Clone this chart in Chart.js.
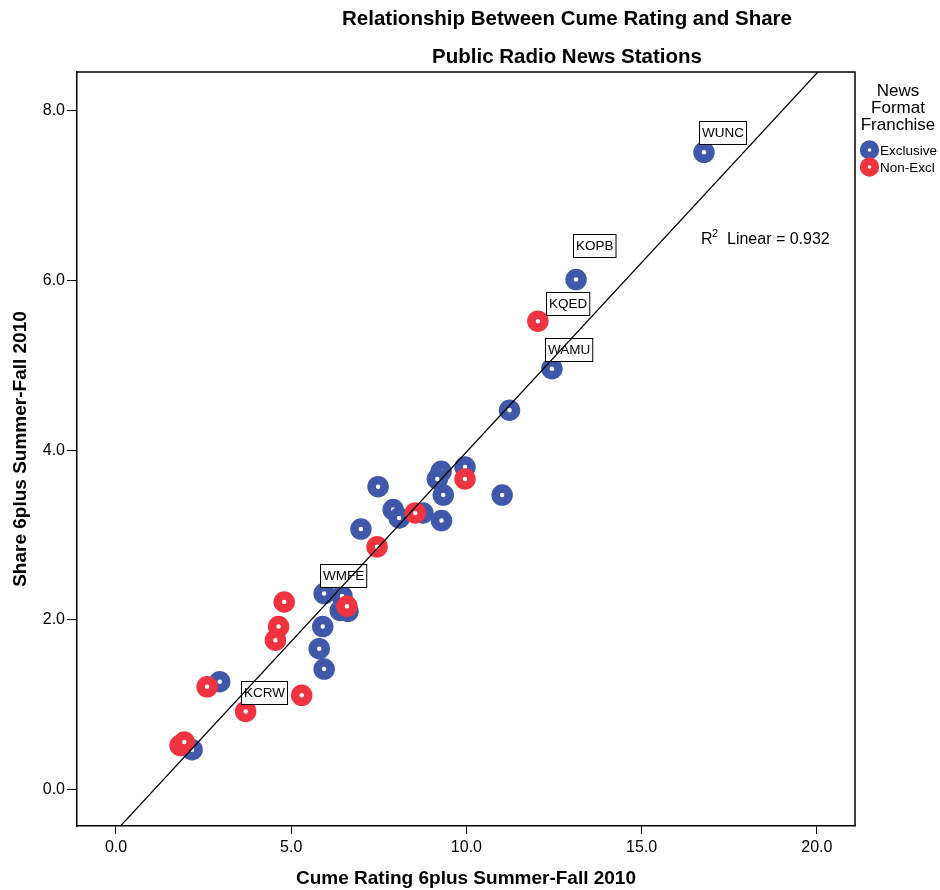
<!DOCTYPE html>
<html>
<head>
<meta charset="utf-8">
<script src="https://cdn.jsdelivr.net/npm/chart.js@4.4.1/dist/chart.umd.min.js"></script>
<style>
  html, body { margin: 0; padding: 0; background: #fff; }
  #wrap { position: relative; width: 940px; height: 890px; }
</style>
</head>
<body>
<div id="wrap"><canvas id="chart"></canvas></div>
<script>
// Exclusive (blue) stations
const exclX = [16.78, 13.13, 12.44, 11.23, 9.96, 9.28, 9.17, 9.34, 11.02, 7.48, 7.91, 8.08, 8.76, 9.29, 6.99, 5.94, 6.45, 6.40, 6.62, 5.90, 5.80, 5.94, 2.96, 2.17];
const exclY = [7.51, 6.01, 4.96, 4.47, 3.80, 3.75, 3.66, 3.47, 3.47, 3.57, 3.30, 3.20, 3.26, 3.17, 3.07, 2.31, 2.28, 2.11, 2.10, 1.92, 1.66, 1.42, 1.27, 0.47];
const exclNames = ['WUNC', 'KOPB', 'WAMU', '', '', '', '', '', '', '', '', '', '', '', '', 'WMFE', '', '', '', '', '', '', '', ''];

// Non-exclusive (red) stations
const nonX = [12.04, 9.96, 8.54, 7.45, 6.59, 4.80, 4.64, 4.55, 2.60, 3.70, 5.30, 1.83, 1.95];
const nonY = [5.52, 3.66, 3.26, 2.86, 2.16, 2.21, 1.92, 1.76, 1.21, 0.92, 1.11, 0.52, 0.56];
const nonNames = ['KQED', '', '', '', '', '', '', '', '', 'KCRW', '', '', ''];

// Linear fit line, read where it meets the plot frame
const fitX = [0.13, 20.03];
const fitY = [-0.43, 8.457];

const xTicks = [0, 5, 10, 15, 20];
const yTicks = [0, 2, 4, 6, 8];

const BLUE = '#3f58a9';
const RED  = '#ef3340';
const FONT = "'Liberation Sans', Arial, sans-serif";

// small nudges for the station label boxes (px from the point)
const labelNudge = {
  WUNC: [-5, -8], KOPB: [-3, -23], WAMU: [-7, -8],
  KQED: [8, -6], WMFE: [-4, -7], KCRW: [-5, -7]
};

const toPts = (xs, ys) => xs.map((x, i) => ({ x, y: ys[i] }));

const labelPlugin = {
  id: 'stationLabels',
  beforeDatasetDraw(chart, args) {
    if (args.index !== 2) return;
    const ctx = chart.ctx;
    ctx.save();
    ctx.font = `13.5px ${FONT}`;
    ctx.textBaseline = 'middle';
    ctx.textAlign = 'left';
    [[0, exclNames], [1, nonNames]].forEach(([di, names]) => {
      const meta = chart.getDatasetMeta(di);
      names.forEach((name, i) => {
        if (!name) return;
        const pt = meta.data[i];
        const [dx, dy] = labelNudge[name];
        const w = ctx.measureText(name).width + 5;
        const h = 23;
        const left = Math.round(pt.x + dx) + 0.5;
        const bottom = Math.round(pt.y + dy) + 0.5;
        ctx.fillStyle = '#fff';
        ctx.fillRect(left, bottom - h, w, h);
        ctx.strokeStyle = '#000';
        ctx.lineWidth = 1;
        ctx.strokeRect(left, bottom - h, w, h);
        ctx.fillStyle = '#000';
        ctx.fillText(name, left + 2.5, bottom - h / 2 + 0.5);
      });
    });
    ctx.restore();
  }
};

const decorPlugin = {
  id: 'decor',
  afterDraw(chart) {
    const { ctx, chartArea: a } = chart;
    ctx.save();
    // frame top and right
    ctx.strokeStyle = '#000';
    ctx.lineWidth = 1.5;
    ctx.beginPath();
    ctx.moveTo(a.left, a.top);
    ctx.lineTo(a.right, a.top);
    ctx.lineTo(a.right, a.bottom);
    ctx.stroke();

    // title
    ctx.fillStyle = '#000';
    ctx.textAlign = 'center';
    ctx.textBaseline = 'middle';
    ctx.font = `bold 20.5px ${FONT}`;
    ctx.fillText('Relationship Between Cume Rating and Share', 567, 19);
    ctx.fillText('Public Radio News Stations', 567, 57);

    // legend
    ctx.font = `17px ${FONT}`;
    ctx.fillText('News', 898, 91);
    ctx.fillText('Format', 898, 108);
    ctx.fillText('Franchise', 898, 125);
    [[BLUE, 'Exclusive', 150], [RED, 'Non-Excl', 167]].forEach(([c, t, y]) => {
      ctx.beginPath();
      ctx.arc(869.5, y, 9.7, 0, Math.PI * 2);
      ctx.fillStyle = c;
      ctx.fill();
      ctx.beginPath();
      ctx.arc(869.5, y, 1.8, 0, Math.PI * 2);
      ctx.fillStyle = '#fff';
      ctx.fill();
    });
    ctx.fillStyle = '#000';
    ctx.textAlign = 'left';
    ctx.font = `13.5px ${FONT}`;
    ctx.fillText('Exclusive', 880, 151);
    ctx.fillText('Non-Excl', 880, 168);

    // R squared annotation
    ctx.font = `16px ${FONT}`;
    ctx.fillText('R', 701, 240);
    ctx.font = `11px ${FONT}`;
    ctx.fillText('2', 712, 234);
    ctx.font = `16px ${FONT}`;
    ctx.fillText('Linear = 0.932', 727, 240);
    ctx.restore();
  }
};

const pointStyle = color => ({
  pointRadius: 6.5,
  pointBorderWidth: 8.5,
  pointBackgroundColor: '#fff',
  pointBorderColor: color,
  pointHoverRadius: 6.5
});

new Chart(document.getElementById('chart'), {
  type: 'scatter',
  data: {
    datasets: [
      { label: 'Exclusive', data: toPts(exclX, exclY), order: 2, ...pointStyle(BLUE) },
      { label: 'Non-Excl', data: toPts(nonX, nonY), order: 1, ...pointStyle(RED) },
      {
        label: 'Fit', data: toPts(fitX, fitY), order: 0,
        showLine: true, borderColor: '#000', borderWidth: 1.2, pointRadius: 0
      }
    ]
  },
  options: {
    responsive: true,
    maintainAspectRatio: false,
    animation: false,
    events: [],
    layout: { padding: { top: 72, right: 85, left: 0, bottom: 0 } },
    plugins: {
      legend: { display: false },
      tooltip: { enabled: false }
    },
    scales: {
      x: {
        type: 'linear',
        min: -1.113,
        max: 21.09,
        afterFit: s => { s.height = 64; },
        afterBuildTicks: s => { s.ticks = xTicks.map(v => ({ value: v })); },
        ticks: {
          color: '#000', padding: 4,
          font: { family: FONT, size: 16 },
          callback: v => v.toFixed(1)
        },
        grid: { drawOnChartArea: false, tickLength: 8, color: '#000' },
        border: { color: '#000', width: 1.5 },
        title: {
          display: true, text: 'Cume Rating 6plus Summer-Fall 2010', color: '#000',
          font: { family: FONT, size: 19, weight: 'bold' }, padding: { top: 0, bottom: 0 }
        }
      },
      y: {
        type: 'linear',
        min: -0.43,
        max: 8.457,
        afterFit: s => { s.width = 77; },
        afterBuildTicks: s => { s.ticks = yTicks.map(v => ({ value: v })); },
        ticks: {
          color: '#000', padding: 2,
          font: { family: FONT, size: 16 },
          callback: v => v.toFixed(1)
        },
        grid: { drawOnChartArea: false, tickLength: 10, color: '#000' },
        border: { color: '#000', width: 1.5 },
        title: {
          display: true, text: 'Share 6plus Summer-Fall 2010', color: '#000',
          font: { family: FONT, size: 19, weight: 'bold' }, padding: { top: 9, bottom: 0 }
        }
      }
    }
  },
  plugins: [labelPlugin, decorPlugin]
});
</script>
</body>
</html>
